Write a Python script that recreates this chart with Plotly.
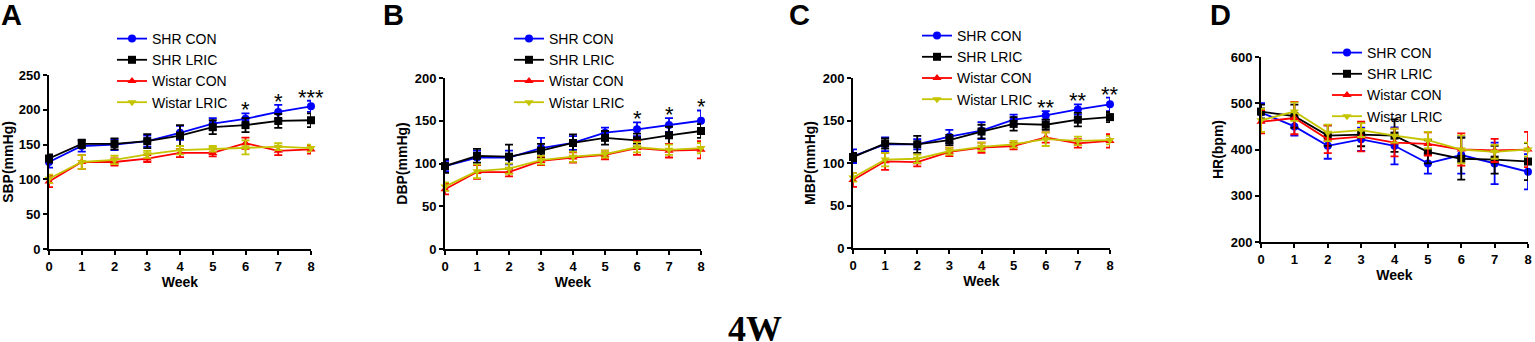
import plotly.graph_objects as go

W, H = 1535, 342
weeks = [0, 1, 2, 3, 4, 5, 6, 7, 8]
groups = ["SHR CON", "SHR LRIC", "Wistar CON", "Wistar LRIC"]
colors = ["#0000FF", "#000000", "#FF0000", "#C4C400"]
symbols = ["circle", "square", "triangle-up", "triangle-down"]

# SBP
sbp_shr_con = [125, 148, 150, 155, 167, 180, 187, 197, 205]
sbp_shr_lric = [130, 151, 151, 155, 163, 175, 178, 184, 185]
sbp_wis_con = [97, 125, 125, 130, 138, 138, 152, 141, 143]
sbp_wis_lric = [101, 125, 128, 136, 142, 144, 146, 147, 145]
sbp_err_shr_con = [8, 8, 8, 8, 10, 8, 8, 10, 8]
sbp_err_shr_lric = [6, 6, 8, 10, 15, 10, 10, 10, 10]
sbp_err_wis_con = [8, 10, 5, 5, 6, 5, 8, 6, 6]
sbp_err_wis_lric = [6, 10, 6, 5, 6, 4, 10, 5, 5]

# DBP
dbp_shr_con = [97, 107, 107, 118, 124, 136, 140, 145, 150]
dbp_shr_lric = [97, 109, 108, 115, 124, 130, 127, 133, 138]
dbp_wis_con = [70, 90, 90, 103, 107, 110, 118, 115, 116]
dbp_wis_lric = [73, 91, 94, 104, 108, 111, 119, 116, 118]
dbp_err_shr_con = [6, 8, 8, 12, 8, 6, 8, 8, 12]
dbp_err_shr_lric = [8, 8, 14, 8, 10, 8, 8, 10, 8]
dbp_err_wis_con = [6, 8, 5, 5, 6, 5, 8, 8, 10]
dbp_err_wis_lric = [5, 8, 6, 5, 6, 4, 6, 6, 6]

# MBP
mbp_shr_con = [108, 122, 122, 131, 138, 151, 156, 163, 169]
mbp_shr_lric = [107, 123, 122, 127, 137, 146, 145, 151, 154]
mbp_wis_con = [80, 102, 101, 113, 118, 120, 130, 123, 126]
mbp_wis_lric = [83, 104, 105, 114, 119, 122, 128, 126, 127]
mbp_err_shr_con = [8, 8, 6, 8, 10, 6, 5, 6, 8]
mbp_err_shr_lric = [5, 6, 10, 6, 8, 8, 6, 8, 6]
mbp_err_wis_con = [8, 10, 5, 5, 6, 4, 6, 5, 8]
mbp_err_wis_lric = [5, 8, 5, 4, 5, 4, 8, 5, 5]

# HR
hr_shr_con = [480, 450, 408, 422, 408, 370, 388, 370, 352]
hr_shr_lric = [482, 472, 430, 432, 430, 395, 380, 378, 374]
hr_wis_con = [460, 468, 422, 428, 415, 412, 400, 398, 400]
hr_wis_lric = [463, 482, 436, 442, 430, 420, 400, 395, 400]
hr_err_shr_con = [20, 20, 28, 25, 40, 22, 40, 45, 38]
hr_err_shr_lric = [15, 25, 22, 25, 35, 25, 45, 30, 40]
hr_err_wis_con = [25, 35, 30, 32, 30, 25, 35, 25, 38]
hr_err_wis_lric = [25, 20, 18, 15, 15, 18, 30, 15, 15]

panels = [
    dict(letter="A", ytitle="SBP(mmHg)", yrange=[0, 250], dtick=50,
         vals=[sbp_shr_con, sbp_shr_lric, sbp_wis_con, sbp_wis_lric],
         errs=[sbp_err_shr_con, sbp_err_shr_lric, sbp_err_wis_con, sbp_err_wis_lric],
         stars={6: "*", 7: "*", 8: "***"},
         px=(49, 311), py=(249, 75), legx=153, legy=38, letx=11),
    dict(letter="B", ytitle="DBP(mmHg)", yrange=[0, 200], dtick=50,
         vals=[dbp_shr_con, dbp_shr_lric, dbp_wis_con, dbp_wis_lric],
         errs=[dbp_err_shr_con, dbp_err_shr_lric, dbp_err_wis_con, dbp_err_wis_lric],
         stars={6: "*", 7: "*", 8: "*"},
         px=(445, 701), py=(249, 78), legx=550, legy=38, letx=393),
    dict(letter="C", ytitle="MBP(mmHg)", yrange=[0, 200], dtick=50,
         vals=[mbp_shr_con, mbp_shr_lric, mbp_wis_con, mbp_wis_lric],
         errs=[mbp_err_shr_con, mbp_err_shr_lric, mbp_err_wis_con, mbp_err_wis_lric],
         stars={6: "**", 7: "**", 8: "**"},
         px=(853, 1110), py=(248, 78), legx=958, legy=35, letx=799),
    dict(letter="D", ytitle="HR(bpm)", yrange=[200, 600], dtick=100,
         vals=[hr_shr_con, hr_shr_lric, hr_wis_con, hr_wis_lric],
         errs=[hr_err_shr_con, hr_err_shr_lric, hr_err_wis_con, hr_err_wis_lric],
         stars={},
         px=(1261, 1528), py=(242, 57), legx=1368, legy=52, letx=1220),
]

FONT = "Arial, Liberation Sans, sans-serif"
fig = go.Figure()
layout = dict(width=W, height=H, margin=dict(l=0, r=0, t=0, b=0, autoexpand=False),
              paper_bgcolor="white", plot_bgcolor="white", showlegend=True,
              font=dict(family=FONT, color="black"))
annotations = []

for i, p in enumerate(panels):
    n = "" if i == 0 else str(i + 1)
    xa, ya = "x" + n, "y" + n
    leg = "legend" + n
    for g in range(4):
        fig.add_trace(go.Scatter(
            x=weeks, y=p["vals"][g], name=groups[g], mode="lines+markers",
            xaxis=xa, yaxis=ya, legend=leg, cliponaxis=False,
            line=dict(color=colors[g], width=1.8),
            marker=dict(symbol=symbols[g], size=8, color=colors[g]),
            error_y=dict(type="data", array=p["errs"][g], visible=True,
                         color=colors[g], thickness=1.8, width=4),
        ))
    common_axis = dict(showline=True, linecolor="black", linewidth=2,
                       ticks="outside", ticklen=4, tickwidth=2, tickcolor="black",
                       showgrid=False, zeroline=False, automargin=False,
                       tickfont=dict(family=FONT, size=13, weight="bold", color="black"),
                       title_font=dict(family=FONT, size=14, weight="bold", color="black"))
    layout["xaxis" + n] = dict(common_axis, domain=[p["px"][0] / W, p["px"][1] / W],
                               range=[0, 8], tickmode="array", tickvals=weeks,
                               ticklabeloverflow="allow",
                               anchor=ya, title=dict(text="Week", standoff=4))
    layout["yaxis" + n] = dict(common_axis, domain=[1 - p["py"][0] / H, 1 - p["py"][1] / H],
                               range=p["yrange"], dtick=p["dtick"], anchor=xa,
                               ticklabeloverflow="allow",
                               title=dict(text=p["ytitle"], standoff=4))
    layout[leg] = dict(x=(p["legx"] - 41) / W, y=1 - (p["legy"] - 15) / H,
                       xanchor="left", yanchor="top", bgcolor="rgba(0,0,0,0)",
                       font=dict(family=FONT, size=14, color="black"),
                       itemwidth=30, tracegroupgap=0)
    for wk, s in p["stars"].items():
        top = p["vals"][0][wk] + p["errs"][0][wk]
        annotations.append(dict(x=wk, y=top, xref=xa, yref=ya, text=s,
                                showarrow=False, yanchor="bottom", yshift=-11,
                                font=dict(family=FONT, size=22, color="black")))
    annotations.append(dict(x=p["letx"] / W, y=1.0, xref="paper", yref="paper",
                            text=p["letter"], showarrow=False, xanchor="center",
                            yanchor="top", yshift=3,
                            font=dict(family=FONT, size=29, weight="bold", color="black")))

annotations.append(dict(x=755 / W, y=1 - 329 / H, xref="paper", yref="paper",
                        text="4W", showarrow=False, xanchor="center", yanchor="middle",
                        font=dict(family="Times New Roman, Liberation Serif, serif",
                                  size=36, weight="bold", color="black")))
layout["annotations"] = annotations
fig.update_layout(**layout)
fig.write_html("out.html", config={"displayModeBar": False},
               post_script="document.body.style.margin='0';document.body.style.overflow='hidden';")
